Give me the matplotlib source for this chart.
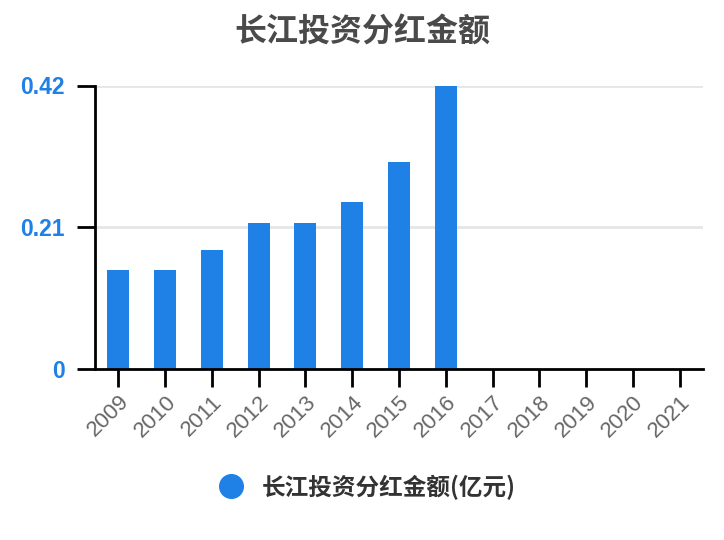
import matplotlib
matplotlib.use("Agg")
import matplotlib.pyplot as plt
from matplotlib.lines import Line2D

plt.rcParams['font.family'] = ['Liberation Sans', 'Noto Sans CJK SC', 'DejaVu Sans']

title = "长江投资分红金额"
series_name = "长江投资分红金额(亿元)"
years = ["2009", "2010", "2011", "2012", "2013", "2014", "2015", "2016",
         "2017", "2018", "2019", "2020", "2021"]
dividends = [0.146, 0.146, 0.176, 0.217, 0.217, 0.247, 0.306, 0.419,
             None, None, None, None, None]
y_ticks = [0, 0.21, 0.42]
y_tick_labels = ["0", "0.21", "0.42"]

bar_color = "#1f80e5"
tick_blue = "#1f80e5"

fig = plt.figure(figsize=(7.24, 5.4), dpi=100)
ax = fig.add_axes([95 / 724, 1 - 369 / 540, 608 / 724, (369 - 85.5) / 540])

xs = list(range(len(years)))
vals = [v if v is not None else 0 for v in dividends]
ax.bar(xs, vals, width=0.47, color=bar_color, zorder=3)

ax.set_xlim(-0.5, len(years) - 0.5)
ax.set_ylim(0, 0.42)

ax.set_yticks(y_ticks)
ax.set_yticklabels(y_tick_labels, fontsize=16.5, fontweight='bold', color=tick_blue)
ax.set_xticks(xs)
ax.set_xticklabels(years, rotation=45, ha='right', rotation_mode='anchor',
                   fontsize=16, color='#666666')

ax.tick_params(axis='y', length=13, width=2, color='black', pad=9)
ax.tick_params(axis='x', length=13, width=2, color='black', pad=3)

for s in ['top', 'right']:
    ax.spines[s].set_visible(False)
for s in ['left', 'bottom']:
    ax.spines[s].set_linewidth(2)
    ax.spines[s].set_color('black')
    ax.spines[s].set_zorder(4)

for y in y_ticks[1:]:
    ax.axhline(y, color='#e6e6e6', linewidth=2, zorder=1)

fig.text(0.5, 1 - 33 / 540, title, ha='center', va='center',
         fontsize=23, fontweight='bold', color='#4a4a4a',
         family=['Noto Sans CJK SC', 'DejaVu Sans'])

handle = Line2D([], [], marker='o', linestyle='none', markersize=17,
                markerfacecolor=bar_color, markeredgecolor=bar_color)
fig.legend([handle], [series_name], loc='center', bbox_to_anchor=(0.5, 1 - 487 / 540),
           frameon=False, handletextpad=0.3,
           prop={'family': ['Noto Sans CJK SC', 'DejaVu Sans'], 'size': 17, 'weight': 'bold'},
           labelcolor='#333333')

fig.savefig("out.png", dpi=100)
